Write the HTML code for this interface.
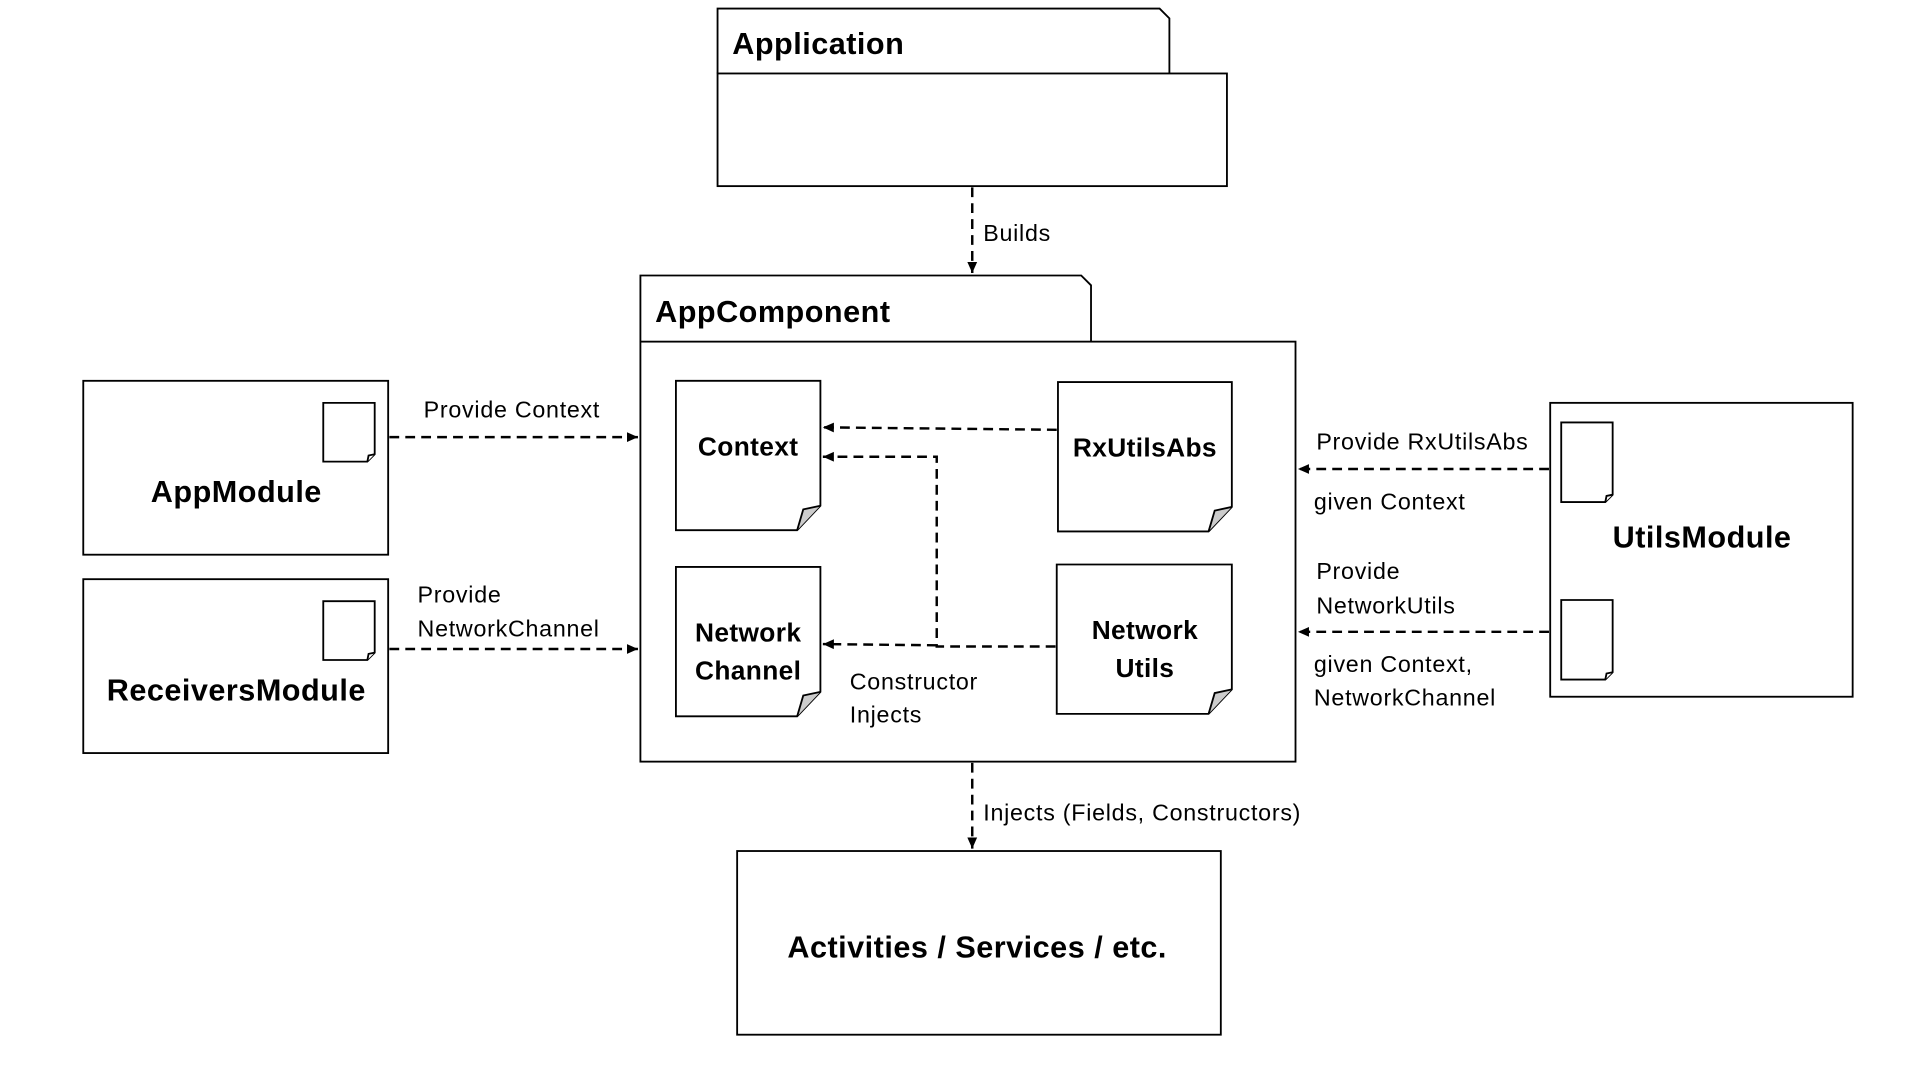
<!DOCTYPE html>
<html><head><meta charset="utf-8"><style>html,body{margin:0;padding:0;background:#fff;width:1920px;height:1080px;overflow:hidden}</style></head>
<body>
<svg width="1920" height="1080" viewBox="0 0 1568 882" preserveAspectRatio="none" xmlns="http://www.w3.org/2000/svg" font-family="Liberation Sans, DejaVu Sans, sans-serif">
<defs>
<marker id="a" markerWidth="10" markerHeight="10" refX="9" refY="5" orient="auto" markerUnits="userSpaceOnUse"><path d="M0,1 L9,5 L0,9 z" fill="#000"/></marker>
</defs>
<g fill="#fff" stroke="#000" stroke-width="1.5">
<path d="M586,60 V7 H947 L955,15 V60"/>
<rect x="586" y="60" width="416" height="92"/>
<path d="M523,279 V225 H883 L891,233 V279"/>
<rect x="523" y="279" width="535" height="343"/>
<path d="M552,311 H670 V413 L651,433 H552 Z"/><path d="M651,433 L656,416 L670,413" fill="#ccc"/>
<path d="M864,312 H1006 V414 L987,434 H864 Z"/><path d="M987,434 L992,417 L1006,414" fill="#ccc"/>
<path d="M552,463 H670 V565 L651,585 H552 Z"/><path d="M651,585 L656,568 L670,565" fill="#ccc"/>
<path d="M863,461 H1006 V563 L987,583 H863 Z"/><path d="M987,583 L992,566 L1006,563" fill="#ccc"/>
<rect x="68" y="311" width="249" height="142"/>
<path d="M264,329 H306 V371 L300,377 H264 Z"/><path d="M300,377 L301,372 L306,371"/>
<rect x="68" y="473" width="249" height="142"/>
<path d="M264,491 H306 V533 L300,539 H264 Z"/><path d="M300,539 L301,534 L306,533"/>
<rect x="1266" y="329" width="247" height="240"/>
<path d="M1275,345 H1317 V404 L1311,410 H1275 Z"/><path d="M1311,410 L1312,405 L1317,404"/>
<path d="M1275,490 H1317 V549 L1311,555 H1275 Z"/><path d="M1311,555 L1312,550 L1317,549"/>
<rect x="602" y="695" width="395" height="150"/>
</g>
<g fill="none" stroke="#000" stroke-width="2" stroke-dasharray="8,5">
<path d="M794,153 V223" marker-end="url(#a)"/>
<path d="M794,623 V693" marker-end="url(#a)"/>
<path d="M318,357 H521" marker-end="url(#a)"/>
<path d="M318,530 H521" marker-end="url(#a)"/>
<path d="M1265,383 H1060" marker-end="url(#a)"/>
<path d="M1265,516 H1060" marker-end="url(#a)"/>
<path d="M863,351 L672,349" marker-end="url(#a)"/>
<path d="M862,528 H765 V373 H672" marker-end="url(#a)"/>
<path d="M765,527 L672,526" marker-end="url(#a)"/>
</g>
<g font-weight="bold" font-size="25" fill="#000" letter-spacing="0.4">
<text x="598" y="44">Application</text>
<text x="535" y="263">AppComponent</text>
<text x="193" y="410" text-anchor="middle">AppModule</text>
<text x="193" y="572" text-anchor="middle">ReceiversModule</text>
<text x="1390" y="447" text-anchor="middle">UtilsModule</text>
<text x="798" y="782" text-anchor="middle">Activities / Services / etc.</text>
</g>
<g font-weight="bold" font-size="21.5" fill="#000" text-anchor="middle" letter-spacing="0.3">
<text x="611" y="372">Context</text>
<text x="935" y="373">RxUtilsAbs</text>
<text x="611" y="524">Network</text><text x="611" y="555">Channel</text>
<text x="935" y="522">Network</text><text x="935" y="553">Utils</text>
</g>
<g font-size="19" fill="#000" letter-spacing="0.6">
<text x="803" y="197">Builds</text>
<text x="803" y="670">Injects (Fields, Constructors)</text>
<text x="346" y="341">Provide Context</text>
<text x="341" y="492">Provide</text><text x="341" y="520">NetworkChannel</text>
<text x="694" y="563">Constructor</text><text x="694" y="590">Injects</text>
<text x="1075" y="367">Provide RxUtilsAbs</text>
<text x="1073" y="416">given Context</text>
<text x="1075" y="473">Provide</text><text x="1075" y="501">NetworkUtils</text>
<text x="1073" y="549">given Context,</text><text x="1073" y="576">NetworkChannel</text>
</g>
</svg>
</body></html>
